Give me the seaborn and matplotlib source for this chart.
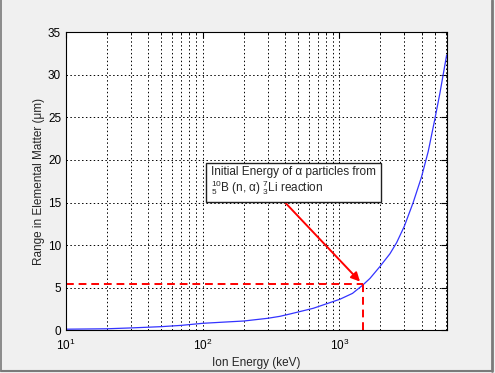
import matplotlib
matplotlib.use("Agg")
import matplotlib.pyplot as plt
import pandas as pd
import seaborn as sns
from matplotlib.lines import Line2D

# data (ion energy in keV, range in um)
energy_kev = [10, 20, 30, 50, 70, 100, 150, 200, 300, 368, 435, 645, 1010, 1250,
              1480, 1677, 1985, 2350, 2630, 2990, 3475, 4000, 4480, 5010, 5450, 6110]
range_um = [0.15, 0.2, 0.3, 0.45, 0.6, 0.84, 1.0, 1.11, 1.43, 1.66, 1.93, 2.6, 3.66, 4.35,
            5.3, 6.1, 7.5, 9.0, 10.3, 12.2, 15.0, 18.0, 21.0, 24.8, 27.8, 32.3]

alpha_energy = 1480
alpha_range = 5.4
arrow_start = (386, 15.3)
box_anchor = (115, 19.3)
box_text = ("Initial Energy of α particles from\n"
            "$^{10}_{5}$B (n, α) $^{7}_{3}$Li reaction")

x_ticks = [10, 100, 1000]
y_ticks = [0, 5, 10, 15, 20, 25, 30, 35]

df = pd.DataFrame({"energy": energy_kev, "range": range_um})

sns.set_style("white")
plt.rcParams["font.family"] = ["Liberation Sans", "DejaVu Sans"]
plt.rcParams["mathtext.fontset"] = "custom"
plt.rcParams["mathtext.rm"] = "Liberation Sans"
plt.rcParams["mathtext.it"] = "Liberation Sans:italic"

fig = plt.figure(figsize=(4.95, 3.73), dpi=100, facecolor="#f0f0f0")
ax = fig.add_axes([0.1333, 0.114, 0.769, 0.800])
ax.set_facecolor("white")

sns.lineplot(data=df, x="energy", y="range", ax=ax, color="#3333ff", linewidth=0.9)

ax.set_xscale("log")
ax.set_xlim(10, 6110)
ax.set_ylim(0, 35)
ax.set_yticks(y_ticks)
ax.set_xticks(x_ticks)

ax.grid(True, which="major", color="black", linestyle=(0, (1.5, 2.5)), linewidth=0.7)
ax.grid(True, which="minor", axis="x", color="black", linestyle=(0, (1.5, 2.5)), linewidth=0.7)
ax.tick_params(which="both", direction="in", top=True, right=True, labelsize=8.5, colors="black")
ax.tick_params(which="major", length=4)
ax.tick_params(which="minor", length=2)
ax.tick_params(axis="x", which="major", pad=5)
for s in ax.spines.values():
    s.set_color("black")
    s.set_linewidth(0.8)

# red dashed guides to the 10B(n,a) alpha energy
ax.plot([10, alpha_energy], [alpha_range, alpha_range], color="red", linestyle="--",
        linewidth=1.4, dashes=(4, 2.5))
ax.plot([alpha_energy, alpha_energy], [0, alpha_range], color="red", linestyle="--",
        linewidth=1.4, dashes=(4, 2.5))

ax.annotate("", xy=(alpha_energy * 0.99, alpha_range + 0.1), xytext=arrow_start,
            arrowprops=dict(arrowstyle="-|>", color="red", lw=1.4, mutation_scale=13))
ax.text(box_anchor[0], box_anchor[1], box_text, fontsize=8.5, va="top", ha="left",
        linespacing=1.0,
        bbox=dict(boxstyle="square,pad=0.45", facecolor="white", edgecolor="#202020", linewidth=1.0))

ax.set_xlabel("Ion Energy (keV)", fontsize=8.5, labelpad=3)
ax.set_ylabel("Range in Elemental Matter (μm)", fontsize=8.5, labelpad=2)

# window-like frame around the figure
frame = dict(transform=fig.transFigure, color="#7a7a7a")
fig.lines.append(Line2D([0.003, 0.003], [0.006, 1.0], linewidth=1.2, **frame))
fig.lines.append(Line2D([0.003, 0.994], [0.006, 0.006], linewidth=1.5, **frame))
fig.lines.append(Line2D([0.994, 0.994], [0.006, 1.0], linewidth=2.0, **frame))

fig.savefig("out.png", dpi=100, facecolor=fig.get_facecolor())
